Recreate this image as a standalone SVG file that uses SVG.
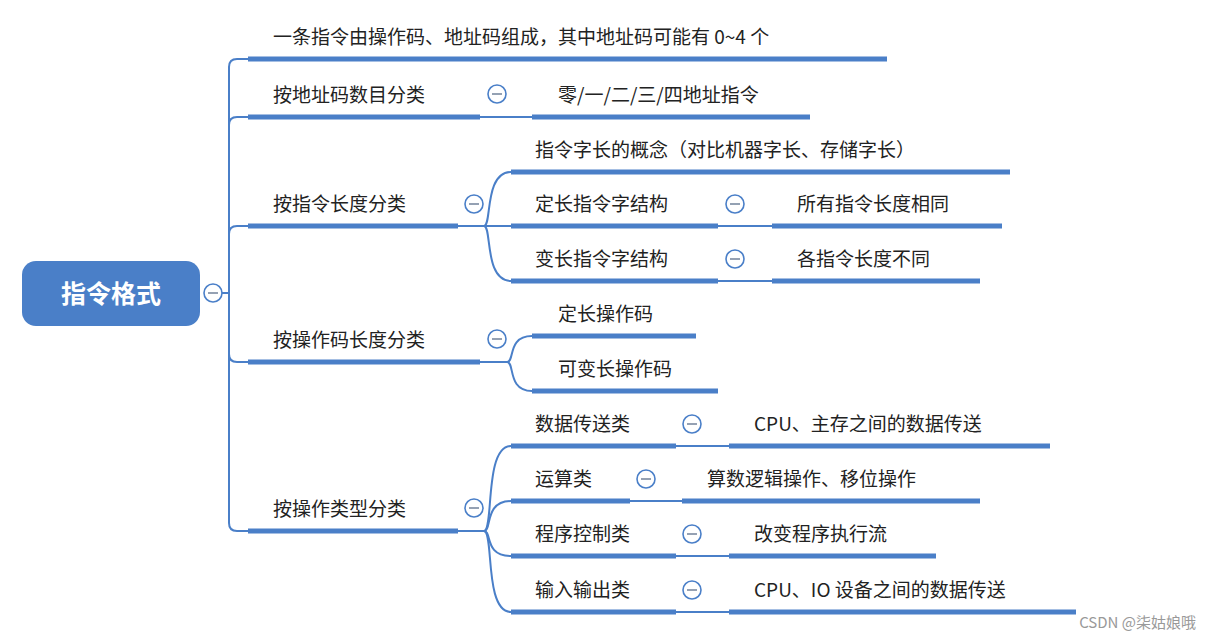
<svg xmlns="http://www.w3.org/2000/svg" width="1211" height="640" viewBox="0 0 1211 640">
<style>
text{font-family:"Noto Sans CJK SC","Liberation Sans",sans-serif;font-size:19px;fill:#222}
.u{stroke:#4a7fc8;stroke-width:5;fill:none}
.c{stroke:#4a7fc8;stroke-width:2;fill:none}
.b circle{fill:#fff;stroke:#4a7fc8;stroke-width:1.6}
.b line{stroke:#7a8aa0;stroke-width:1.6}
</style>
<rect width="1211" height="640" fill="#fff"/>
<g id="connectors" class="c">
<path d="M222,293 H229 V67 Q229,59 237,59 H250"/>
<path d="M229,125 Q229,117 237,117 H250"/>
<path d="M229,234 Q229,226 237,226 H250"/>
<path d="M229,293 V354 Q229,362 237,362 H250"/>
<path d="M229,293 V523 Q229,531 237,531 H250"/>
<path d="M480,117 H532"/>
<path d="M458,226 H484 C492,226 484,172 511,172"/>
<path d="M484,226 H511"/>
<path d="M484,226 C492,226 484,281 511,281"/>
<path d="M718,226 H772"/><path d="M718,281 H772"/>
<path d="M480,362 H507 C515,362 507,336 532,336"/>
<path d="M507,362 C515,362 507,391 532,391"/>
<path d="M458,531 H484 C494,531 484,446 511,446"/>
<path d="M484,531 C492,531 484,501 511,501"/>
<path d="M484,531 C492,531 484,556 511,556"/>
<path d="M484,531 C494,531 484,612 511,612"/>
<path d="M676,446 H729"/><path d="M630,501 H682"/><path d="M676,556 H729"/><path d="M676,612 H729"/>
</g>
<g id="root">
<rect x="22" y="261" width="178" height="65" rx="14" fill="#4a7fc8"/>
<text x="111" y="303" text-anchor="middle" style="fill:#fff;font-size:25px;font-weight:bold">指令格式</text>
<g class="b"><circle cx="213" cy="293" r="9"/><line x1="208" y1="293" x2="218" y2="293"/></g>
</g>
<g id="n1"><text x="273" y="44">一条指令由操作码、地址码组成，其中地址码可能有 0~4 个</text><path class="u" d="M248,59 H887"/></g>
<g id="n2"><text x="273" y="102">按地址码数目分类</text><path class="u" d="M248,117 H480"/>
<g class="b"><circle cx="497" cy="94" r="9"/><line x1="492" y1="94" x2="502" y2="94"/></g></g>
<g id="n2a"><text x="558" y="102">零/一/二/三/四地址指令</text><path class="u" d="M532,117 H810"/></g>
<g id="n3"><text x="273" y="211">按指令长度分类</text><path class="u" d="M248,226 H458"/>
<g class="b"><circle cx="474" cy="204" r="9"/><line x1="469" y1="204" x2="479" y2="204"/></g></g>
<g id="n3a"><text x="535" y="157">指令字长的概念（对比机器字长、存储字长）</text><path class="u" d="M511,172 H1010"/></g>
<g id="n3b"><text x="535" y="211">定长指令字结构</text><path class="u" d="M511,226 H718"/>
<g class="b"><circle cx="735" cy="204" r="9"/><line x1="730" y1="204" x2="740" y2="204"/></g></g>
<g id="n3b1"><text x="797" y="211">所有指令长度相同</text><path class="u" d="M772,226 H1002"/></g>
<g id="n3c"><text x="535" y="266">变长指令字结构</text><path class="u" d="M511,281 H718"/>
<g class="b"><circle cx="735" cy="259" r="9"/><line x1="730" y1="259" x2="740" y2="259"/></g></g>
<g id="n3c1"><text x="797" y="266">各指令长度不同</text><path class="u" d="M772,281 H980"/></g>
<g id="n4"><text x="273" y="347">按操作码长度分类</text><path class="u" d="M248,362 H480"/>
<g class="b"><circle cx="497" cy="339" r="9"/><line x1="492" y1="339" x2="502" y2="339"/></g></g>
<g id="n4a"><text x="558" y="321">定长操作码</text><path class="u" d="M532,336 H696"/></g>
<g id="n4b"><text x="558" y="376">可变长操作码</text><path class="u" d="M532,391 H718"/></g>
<g id="n5"><text x="273" y="516">按操作类型分类</text><path class="u" d="M248,531 H458"/>
<g class="b"><circle cx="474" cy="508" r="9"/><line x1="469" y1="508" x2="479" y2="508"/></g></g>
<g id="n5a"><text x="535" y="431">数据传送类</text><path class="u" d="M511,446 H676"/>
<g class="b"><circle cx="692" cy="424" r="9"/><line x1="687" y1="424" x2="697" y2="424"/></g></g>
<g id="n5a1"><text x="754" y="431">CPU、主存之间的数据传送</text><path class="u" d="M729,446 H1050"/></g>
<g id="n5b"><text x="535" y="486">运算类</text><path class="u" d="M511,501 H630"/>
<g class="b"><circle cx="646" cy="479" r="9"/><line x1="641" y1="479" x2="651" y2="479"/></g></g>
<g id="n5b1"><text x="707" y="486">算数逻辑操作、移位操作</text><path class="u" d="M682,501 H980"/></g>
<g id="n5c"><text x="535" y="541">程序控制类</text><path class="u" d="M511,556 H676"/>
<g class="b"><circle cx="692" cy="534" r="9"/><line x1="687" y1="534" x2="697" y2="534"/></g></g>
<g id="n5c1"><text x="754" y="541">改变程序执行流</text><path class="u" d="M729,556 H936"/></g>
<g id="n5d"><text x="535" y="597">输入输出类</text><path class="u" d="M511,612 H676"/>
<g class="b"><circle cx="692" cy="590" r="9"/><line x1="687" y1="590" x2="697" y2="590"/></g></g>
<g id="n5d1"><text x="754" y="597">CPU、IO 设备之间的数据传送</text><path class="u" d="M729,612 H1076"/></g>
<text x="1196" y="628" text-anchor="end" style="font-size:15px;fill:#999">CSDN @柒姑娘哦</text>
</svg>
